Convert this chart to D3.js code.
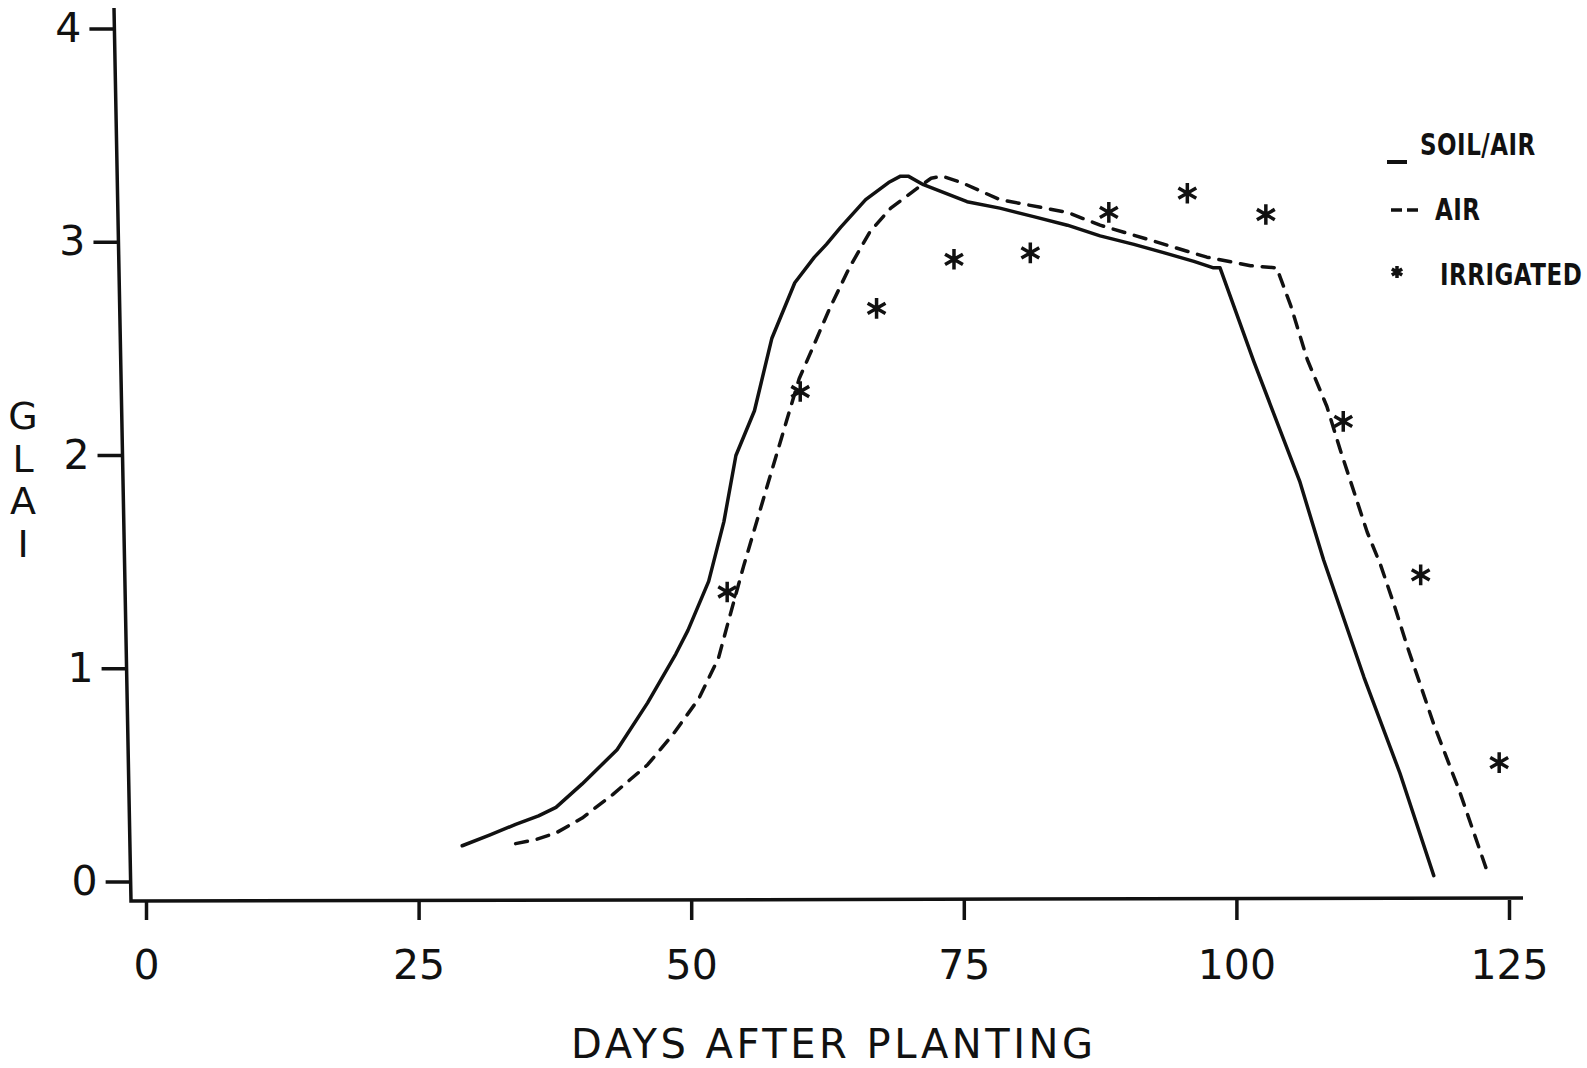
<!DOCTYPE html>
<html>
<head>
<meta charset="utf-8">
<script src="https://cdn.jsdelivr.net/npm/d3@7"></script>
<style>
  body { margin: 0; background: #fff; }
  svg { display: block; }
  text { font-family: "DejaVu Sans", sans-serif; fill: #111; }
</style>
</head>
<body>
<div id="chart"></div>
<script>
// days after planting / GLAI
var soilAirDays = [29.0, 31.5, 33.9, 36.0, 37.6, 40.0, 43.2, 46.0, 48.6, 49.7, 51.6, 53.0, 54.1, 55.8, 57.4, 59.5, 61.3, 62.4, 63.7, 66.0, 68.1, 69.2, 69.9, 71.3, 75.3, 78.3, 81.4, 84.5, 87.5, 90.6, 93.4, 96.1, 97.9, 98.5, 101.6, 105.8, 108.0, 111.7, 115.0, 118.1];
var soilAirGlai = [0.17, 0.22, 0.27, 0.31, 0.35, 0.46, 0.62, 0.84, 1.07, 1.18, 1.41, 1.69, 2.00, 2.21, 2.55, 2.81, 2.93, 2.99, 3.07, 3.20, 3.28, 3.31, 3.31, 3.27, 3.19, 3.16, 3.12, 3.08, 3.03, 2.99, 2.95, 2.91, 2.88, 2.88, 2.44, 1.88, 1.51, 0.96, 0.51, 0.03];

var airDays = [33.9, 35.8, 37.6, 40.0, 42.8, 46.0, 48.3, 50.7, 52.5, 53.4, 54.8, 56.7, 58.5, 59.9, 61.1, 62.7, 64.5, 66.4, 68.3, 70.9, 72.0, 73.0, 74.8, 78.3, 84.5, 87.5, 92.1, 97.3, 101.3, 103.7, 105.0, 106.5, 108.3, 109.5, 112.0, 113.2, 114.4, 115.7, 118.1, 120.5, 123.0];
var airGlai = [0.18, 0.20, 0.23, 0.30, 0.41, 0.55, 0.69, 0.86, 1.05, 1.22, 1.48, 1.81, 2.12, 2.36, 2.50, 2.69, 2.88, 3.05, 3.16, 3.26, 3.30, 3.31, 3.28, 3.20, 3.14, 3.08, 3.01, 2.93, 2.89, 2.88, 2.70, 2.45, 2.23, 2.03, 1.64, 1.49, 1.31, 1.10, 0.74, 0.42, 0.05];

var irrigatedDays = [53.3, 60.0, 67.0, 74.1, 81.1, 88.3, 95.5, 102.7, 109.8, 116.9, 124.1];
var irrigatedGlai = [1.36, 2.30, 2.69, 2.92, 2.95, 3.14, 3.23, 3.13, 2.16, 1.44, 0.56];

var xTicks = [0, 25, 50, 75, 100, 125];
var yTicks = [0, 1, 2, 3, 4];
var legendLabels = ["SOIL/AIR", "AIR", "IRRIGATED"];
var xTitle = "DAYS AFTER PLANTING";
var yTitleLetters = ["G", "L", "A", "I"];

var width = 1587, height = 1068;
var ink = "#111";

var xScale = d3.scaleLinear().domain([0, 125]).range([146, 1509]);
var yScale = d3.scaleLinear().domain([0, 4]).range([882, 29]);

// the scanned y axis leans a little: x of the axis line at a given pixel y
var tilt = d3.scaleLinear().domain([8, 901]).range([114, 131]);

var svg = d3.select("div#chart")
  .append("svg")
  .attr("width", width)
  .attr("height", height);

// axis frame
svg.append("path")
  .attr("d", "M" + tilt(8) + ",8 L" + tilt(901) + ",901 L1523,898")
  .attr("fill", "none")
  .attr("stroke", ink)
  .attr("stroke-width", 3.5)
  .attr("stroke-linejoin", "miter");

var xAxis = d3.axisBottom(xScale)
  .tickValues(xTicks)
  .tickSize(20)
  .tickPadding(30)
  .tickFormat(d3.format("d"));

var gx = svg.append("g")
  .attr("transform", "translate(0,900)")
  .call(xAxis);
gx.select(".domain").remove();
gx.selectAll(".tick line").attr("stroke", ink).attr("stroke-width", 3.5);
gx.selectAll(".tick text")
  .attr("font-size", 41)
  .attr("font-family", "DejaVu Sans, sans-serif")
  .attr("fill", ink);

var yAxis = d3.axisLeft(yScale)
  .tickValues(yTicks)
  .tickSize(25)
  .tickPadding(8)
  .tickFormat(d3.format("d"));

var gy = svg.append("g").call(yAxis);
gy.select(".domain").remove();
gy.selectAll(".tick")
  .attr("transform", d => "translate(" + tilt(yScale(d)) + "," + yScale(d) + ")");
gy.selectAll(".tick line").attr("stroke", ink).attr("stroke-width", 3.5);
gy.selectAll(".tick text")
  .attr("font-size", 41)
  .attr("font-family", "DejaVu Sans, sans-serif")
  .attr("fill", ink);

// titles
svg.append("text")
  .attr("x", 571)
  .attr("y", 1058)
  .attr("font-size", 40)
  .attr("textLength", 522)
  .attr("lengthAdjust", "spacing")
  .text(xTitle);

svg.selectAll(".ytitle")
  .data(yTitleLetters)
  .enter()
  .append("text")
  .attr("class", "ytitle")
  .attr("x", 23)
  .attr("y", (d, i) => 429 + i * 42.5)
  .attr("text-anchor", "middle")
  .attr("font-size", 38)
  .text(d => d);

// curves
var line = d3.line()
  .x(d => xScale(d[0]))
  .y(d => yScale(d[1]));

svg.append("path")
  .datum(d3.zip(soilAirDays, soilAirGlai))
  .attr("d", line)
  .attr("fill", "none")
  .attr("stroke", ink)
  .attr("stroke-width", 3.5)
  .attr("stroke-linecap", "round")
  .attr("stroke-linejoin", "round");

svg.append("path")
  .datum(d3.zip(airDays, airGlai))
  .attr("d", line)
  .attr("fill", "none")
  .attr("stroke", ink)
  .attr("stroke-width", 3.5)
  .attr("stroke-dasharray", "12,10")
  .attr("stroke-linecap", "round")
  .attr("stroke-linejoin", "round");

// measured points
var star = d3.symbol().type(d3.symbolAsterisk).size(300);

svg.selectAll(".irr")
  .data(d3.zip(irrigatedDays, irrigatedGlai))
  .enter()
  .append("path")
  .attr("class", "irr")
  .attr("d", star)
  .attr("transform", d => "translate(" + xScale(d[0]) + "," + yScale(d[1]) + ")")
  .attr("fill", "none")
  .attr("stroke", ink)
  .attr("stroke-width", 3.5);

// legend
var legend = svg.append("g").attr("class", "legend");
var legendX = [1420, 1435, 1440];
var legendY = [155, 220, 285];

legend.selectAll("text")
  .data(legendLabels)
  .enter()
  .append("text")
  .attr("transform", (d, i) => "translate(" + legendX[i] + "," + legendY[i] + ") scale(1,1.3)")
  .attr("font-size", 23)
  .attr("font-weight", "bold")
  .attr("letter-spacing", 0.5)
  .text(d => d);

legend.append("line")
  .attr("x1", 1387).attr("x2", 1407)
  .attr("y1", 162).attr("y2", 162)
  .attr("stroke", ink).attr("stroke-width", 4);

legend.append("line")
  .attr("x1", 1391).attr("x2", 1419)
  .attr("y1", 210).attr("y2", 210)
  .attr("stroke", ink).attr("stroke-width", 3.5)
  .attr("stroke-dasharray", "11,5");

legend.append("path")
  .attr("d", d3.symbol().type(d3.symbolAsterisk).size(100))
  .attr("transform", "translate(1397,272)")
  .attr("fill", "none")
  .attr("stroke", ink)
  .attr("stroke-width", 3.5);
</script>
</body>
</html>
